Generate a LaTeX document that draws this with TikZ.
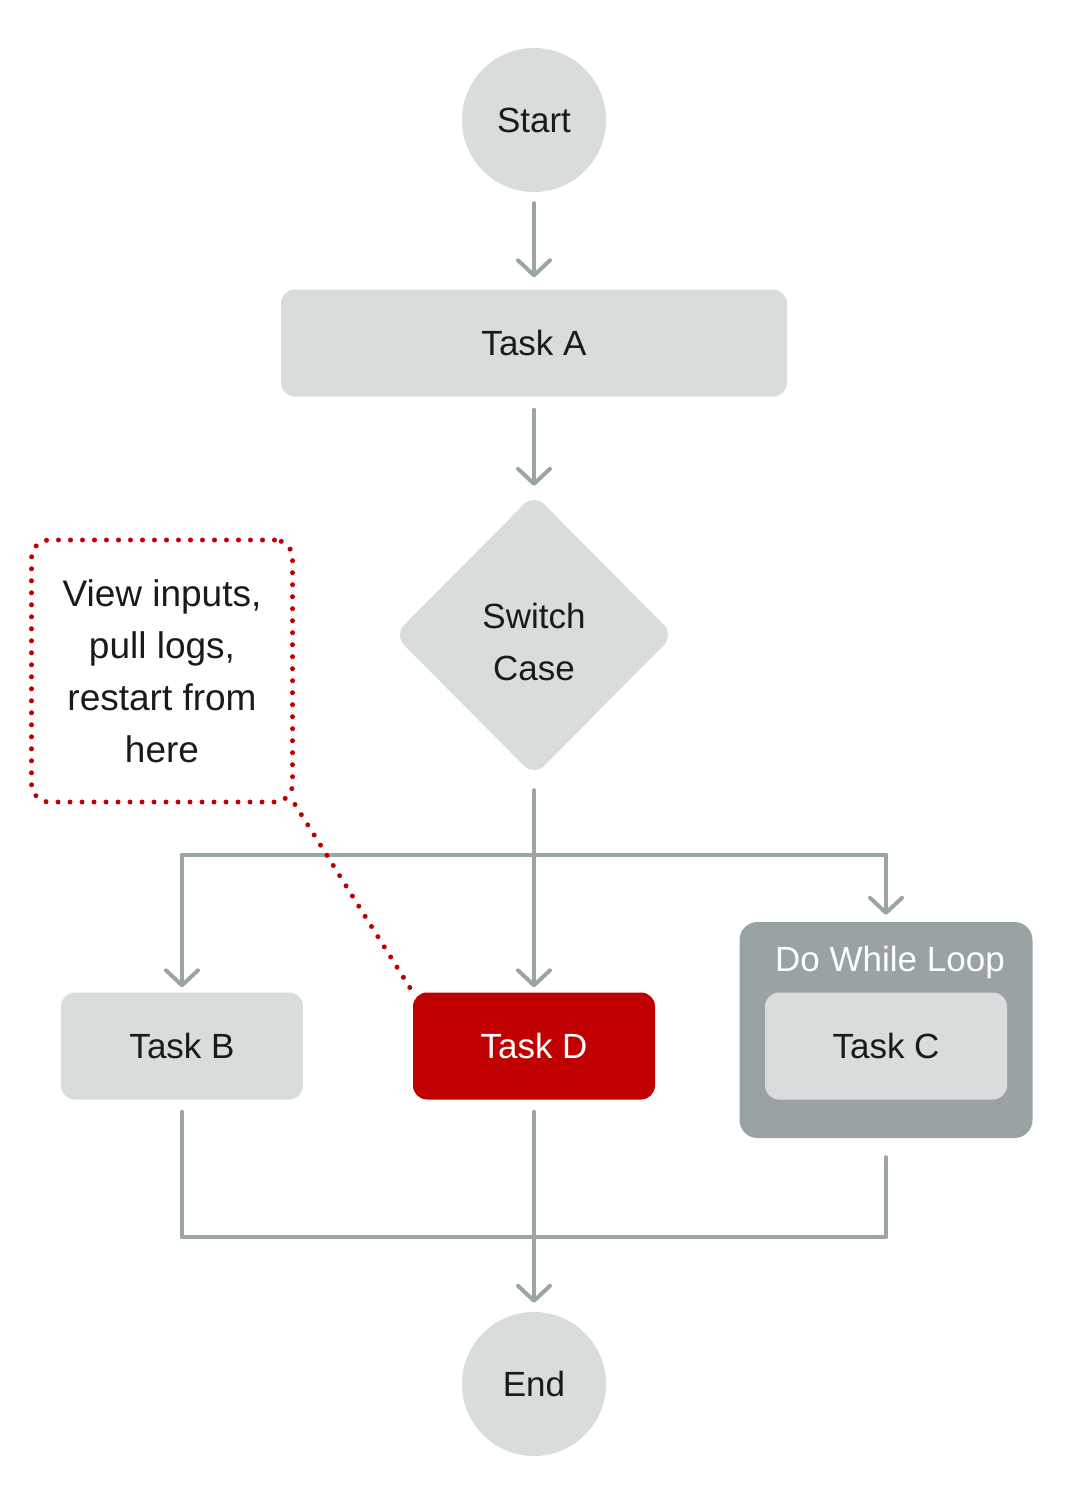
\documentclass[tikz,border=0pt]{standalone}
\usepackage{fontspec}
\setmainfont{Liberation Sans}
\usetikzlibrary{arrows.meta,shapes.geometric}
\definecolor{boxgray}{HTML}{D8DCDC}
\definecolor{linegray}{HTML}{9AA5A6}
\definecolor{loopgray}{HTML}{9AA3A4}
\definecolor{taskred}{HTML}{C00000}
\definecolor{ink}{HTML}{1A1A1A}
\tikzset{
  every node/.style={font=\fontsize{35}{52}\selectfont, text=ink, align=center},
  term/.style={circle, fill=boxgray, minimum size=144pt, inner sep=0pt},
  task/.style={rounded corners=14pt, fill=boxgray, minimum width=242pt, minimum height=107pt, inner sep=0pt},
  decide/.style={diamond, fill=boxgray, rounded corners=14pt, minimum width=280pt, minimum height=282pt, inner sep=0pt},
  line/.style={draw=linegray, line width=4pt, line cap=round, line join=round},
  flow/.style={line, -{Straight Barb[length=15pt, width=32pt, line width=4pt, round]}},
  notebox/.style={draw=taskred, line width=5pt, dash pattern=on 0pt off 12pt, line cap=round,
    rounded corners=18pt, minimum width=261pt, minimum height=262pt, font=\fontsize{37}{52}\selectfont},
  dots/.style={draw=taskred, line width=5pt, dash pattern=on 0pt off 12pt, line cap=round}
}
\begin{document}
\begin{tikzpicture}[x=1pt, y=-1pt]
  \useasboundingbox (0,0) rectangle (1068,1504);
  \node[term] (start) at (534,120) {Start};
  \node[task, minimum width=506pt] (taskA) at (534,343) {Task A};
  \node[decide] (switch) at (534,635) {};
  \node (switchlabel) at (534,642) {Switch\\Case};
  \node[task] (taskB) at (182,1046) {Task B};
  \node[task, fill=taskred, text=white] (taskD) at (534,1046) {Task D};
  \node[rounded corners=18pt, fill=loopgray, minimum width=293pt, minimum height=216pt] (loop) at (886,1030) {};
  \node[text=white] (looplabel) at (890,962) {Do While Loop};
  \node[task] (taskC) at (886,1046) {Task C};
  \node[term] (endnode) at (534,1384) {End};
  \node[notebox] (note) at (162,671) {View inputs,\\pull logs,\\restart from\\here};
  \coordinate (split) at (534,855);
  \coordinate (join) at (534,1237);

  \draw[flow, shorten <=11pt, shorten >=12pt] (start) -- (taskA);
  \draw[flow, shorten <=13pt, shorten >=8pt] (taskA) -- (switch);
  \draw[flow, shorten <=14pt, shorten >=5pt] (switch) -- (taskD);
  \draw[line] (taskB |- split) -- (loop |- split);
  \draw[flow, shorten >=5pt] (taskB |- split) -- (taskB);
  \draw[flow, shorten >=7pt] (loop |- split) -- (loop);
  \draw[line, shorten <=12pt, shorten >=19pt] (taskB) -- (taskB |- join) -- (loop |- join) -- (loop);
  \draw[flow, shorten <=12pt, shorten >=9pt] (taskD) -- (endnode);
  \draw[dots] (note.south east) -- (taskD.north west);
\end{tikzpicture}
\end{document}
